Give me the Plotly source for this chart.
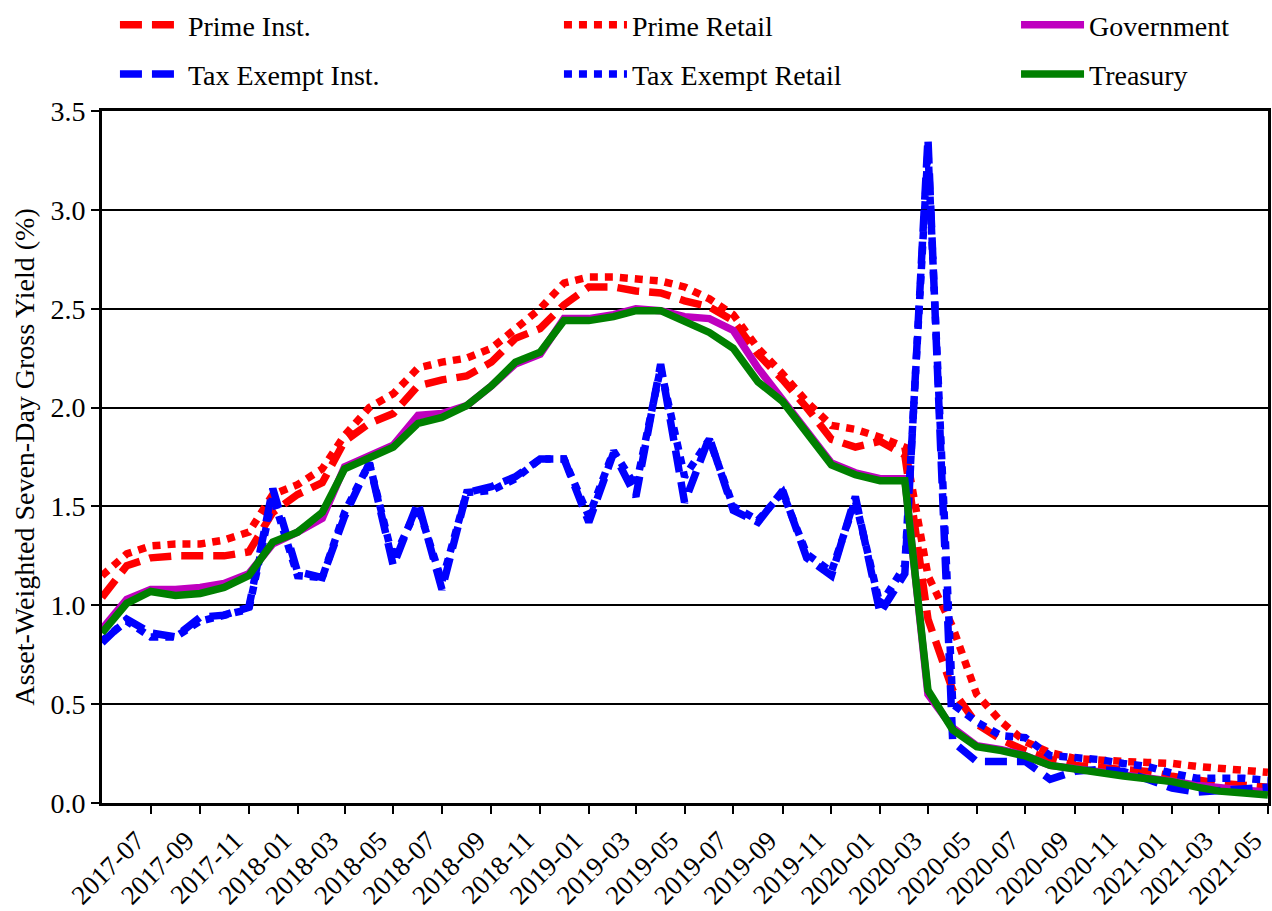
import pandas as pd
import plotly.graph_objects as go

# Monthly observation dates (2017-05 .. 2021-05)
months = [d.strftime("%Y-%m-%d") for d in pd.date_range("2017-05-01", "2021-05-01", freq="MS")]
# Labelled tick dates (every two months, 2017-07 .. 2021-05)
tick_dates = [d.strftime("%Y-%m-%d") for d in pd.date_range("2017-07-01", "2021-05-01", freq="2MS")]

prime_inst = [1.04, 1.20, 1.24, 1.25, 1.25, 1.25, 1.27, 1.47, 1.56, 1.62,
              1.83, 1.92, 1.97, 2.11, 2.14, 2.16, 2.23, 2.35, 2.40, 2.52,
              2.61, 2.61, 2.59, 2.58, 2.54, 2.51, 2.44, 2.27, 2.14, 2.00,
              1.84, 1.80, 1.83, 1.76, 0.93, 0.57, 0.40, 0.32, 0.265, 0.22,
              0.19, 0.18, 0.175, 0.16, 0.135, 0.115, 0.10, 0.09, 0.08]

prime_retail = [1.15, 1.26, 1.30, 1.31, 1.31, 1.33, 1.37, 1.56, 1.61, 1.69,
                1.86, 2.00, 2.07, 2.20, 2.23, 2.25, 2.30, 2.40, 2.50, 2.63,
                2.66, 2.66, 2.65, 2.64, 2.61, 2.55, 2.47, 2.30, 2.17, 2.03,
                1.91, 1.89, 1.85, 1.80, 1.15, 0.89, 0.55, 0.41, 0.31, 0.255,
                0.225, 0.215, 0.21, 0.205, 0.20, 0.185, 0.175, 0.165, 0.155]

government = [0.88, 1.03, 1.08, 1.08, 1.09, 1.11, 1.16, 1.31, 1.37, 1.44,
              1.70, 1.76, 1.81, 1.96, 1.97, 2.01, 2.11, 2.22, 2.27, 2.45,
              2.45, 2.47, 2.50, 2.49, 2.46, 2.45, 2.39, 2.20, 2.04, 1.88,
              1.72, 1.67, 1.64, 1.64, 0.55, 0.38, 0.29, 0.27, 0.24, 0.19,
              0.175, 0.16, 0.14, 0.13, 0.11, 0.09, 0.075, 0.065, 0.055]

tax_exempt_inst = [0.81, 0.93, 0.86, 0.84, 0.94, 0.95, 0.99, 1.59, 1.17, 1.14,
                   1.45, 1.72, 1.20, 1.52, 1.08, 1.57, 1.60, 1.65, 1.74, 1.74,
                   1.42, 1.77, 1.55, 2.22, 1.52, 1.85, 1.48, 1.42, 1.58, 1.24,
                   1.15, 1.55, 0.96, 1.16, 3.36, 0.31, 0.21, 0.21, 0.21, 0.12,
                   0.16, 0.17, 0.16, 0.12, 0.075, 0.055, 0.06, 0.07, 0.08]

tax_exempt_retail = [0.82, 0.92, 0.84, 0.84, 0.92, 0.95, 0.98, 1.55, 1.15, 1.14,
                     1.47, 1.72, 1.23, 1.50, 1.12, 1.57, 1.58, 1.64, 1.74, 1.74,
                     1.45, 1.78, 1.60, 2.20, 1.65, 1.84, 1.50, 1.43, 1.57, 1.26,
                     1.17, 1.53, 1.00, 1.20, 3.30, 0.50, 0.41, 0.34, 0.33, 0.24,
                     0.23, 0.22, 0.20, 0.185, 0.15, 0.125, 0.125, 0.125, 0.115]

treasury = [0.86, 1.01, 1.07, 1.05, 1.06, 1.09, 1.15, 1.32, 1.37, 1.47,
            1.69, 1.75, 1.80, 1.92, 1.95, 2.01, 2.11, 2.23, 2.28, 2.44,
            2.44, 2.46, 2.49, 2.49, 2.44, 2.38, 2.30, 2.13, 2.03, 1.87,
            1.71, 1.66, 1.63, 1.63, 0.57, 0.37, 0.285, 0.265, 0.238, 0.19,
            0.17, 0.158, 0.137, 0.123, 0.108, 0.08, 0.06, 0.05, 0.04]

FONT = "Liberation Serif"
LW = 7.5
DASH = "22px,10px"
DOT = "8px,7px"

series = [
    ("Prime Inst.", prime_inst, "#FF0000", DASH, "legend"),
    ("Prime Retail", prime_retail, "#FF0000", DOT, "legend2"),
    ("Government", government, "#BF00BF", "solid", "legend3"),
    ("Tax Exempt Inst.", tax_exempt_inst, "#0000FF", DASH, "legend"),
    ("Tax Exempt Retail", tax_exempt_retail, "#0000FF", DOT, "legend2"),
    ("Treasury", treasury, "#008000", "solid", "legend3"),
]

fig = go.Figure()
for name, vals, color, dash, leg in series:
    fig.add_trace(go.Scatter(
        x=months, y=vals, mode="lines", name=name,
        line=dict(color=color, width=LW, dash=dash),
        legend=leg, legendgroup=name,
    ))

leg_common = dict(yref="container", yanchor="top", y=1.0, xanchor="left",
                  orientation="v", bgcolor="rgba(0,0,0,0)", borderwidth=0,
                  itemwidth=63, tracegroupgap=10,
                  font=dict(family=FONT, size=28, color="black"))

fig.update_layout(
    width=1272, height=911,
    template="none",
    margin=dict(l=102, r=4, t=111, b=108),
    plot_bgcolor="white", paper_bgcolor="white",
    font=dict(family=FONT, size=28, color="black"),
    showlegend=True,
    legend=dict(x=0.0111, **leg_common),
    legend2=dict(x=0.3919, **leg_common),
    legend3=dict(x=0.7839, **leg_common),
)

fig.update_xaxes(
    type="date", range=["2017-05-01", "2021-05-01 02:00"],
    tickmode="array", tickvals=tick_dates, tickformat="%Y-%m", tickangle=-45,
    ticklabeloverflow="allow", ticklabelshift=-14,
    ticks="outside", ticklen=8, tickwidth=2, tickcolor="black",
    showline=True, linecolor="black", linewidth=3, mirror=True,
    showgrid=False, zeroline=False, automargin=False,
    tickfont=dict(family=FONT, size=27, color="black"),
)
fig.update_yaxes(
    range=[0, 3.5], dtick=0.5, tick0=0, tickformat=".1f",
    ticks="outside", ticklen=8, tickwidth=2, tickcolor="black",
    showline=True, linecolor="black", linewidth=3, mirror=True,
    showgrid=True, gridcolor="black", gridwidth=1.5, zeroline=False,
    automargin=False,
    tickfont=dict(family=FONT, size=28, color="black"),
    title=dict(text="Asset-Weighted Seven-Day Gross Yield (%)",
               font=dict(family=FONT, size=28, color="black")),
)

fig.write_html("out.html", config={"displayModeBar": False},
               post_script="document.body.style.margin='0';document.body.style.overflow='hidden';")
